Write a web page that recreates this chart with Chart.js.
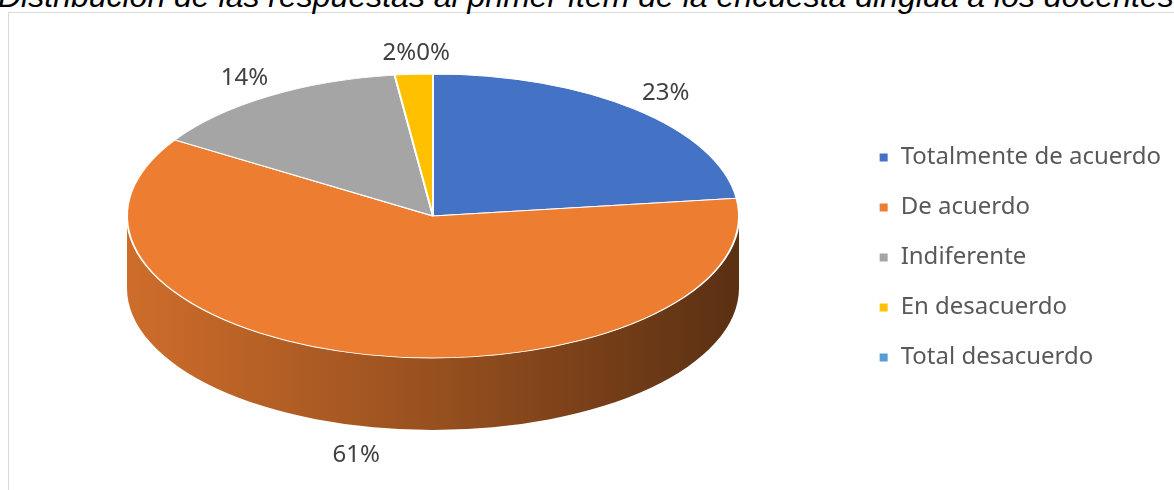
<!DOCTYPE html>
<html>
<head>
<meta charset="utf-8">
<script src="https://cdn.jsdelivr.net/npm/chart.js@4"></script>
<style>
  html, body { margin: 0; padding: 0; background: #fff; }
  #wrap { position: relative; width: 1174px; height: 490px; overflow: hidden; }
  #frame { position: absolute; left: 8px; top: 12px; width: 1300px; height: 600px; border: 1px solid #d9d9d9; box-sizing: border-box; }
  #title { position: absolute; left: -2px; top: -20px; font: italic 32px "Liberation Sans", Arial, sans-serif; line-height: 1; white-space: nowrap; color: #000; }
  #myChart { position: absolute; left: 0; top: 0; }
</style>
</head>
<body>
<div id="wrap">
  <div id="frame"></div>
  <div id="title">Distribución de las respuestas al primer ítem de la encuesta dirigida a los docentes</div>
  <canvas id="myChart" width="1174" height="490"></canvas>
</div>
<script>
const categories = ['Totalmente de acuerdo', 'De acuerdo', 'Indiferente', 'En desacuerdo', 'Total desacuerdo'];
const percentages = [23, 61, 14, 2, 0];
const sliceColors = ['#4472c4', '#ed7d31', '#a5a5a5', '#ffc000', '#5b9bd5'];

// flattened pie: top face is an ellipse, the front rim gets a wall of this depth
const pie = { x: 433, y: 216, rx: 306, ry: 142, depth: 72 };

function shade(hex, f) {
  let n = parseInt(hex.slice(1), 16);
  let r = Math.round(((n >> 16) & 255) * f);
  let g = Math.round(((n >> 8) & 255) * f);
  let b = Math.round((n & 255) * f);
  return `rgb(${r},${g},${b})`;
}

const pie3d = {
  id: 'pie3d',
  beforeDatasetsDraw(chart) {
    const ctx = chart.ctx;
    const arcs = chart.getDatasetMeta(0).data;

    // front wall, only where the rim faces the viewer
    arcs.forEach((arc, i) => {
      let a = Math.max(arc.startAngle, 0);
      let b = Math.min(arc.endAngle, Math.PI);
      if (b <= a) return;
      let grad = ctx.createLinearGradient(pie.x - pie.rx, 0, pie.x + pie.rx, 0);
      grad.addColorStop(0, shade(sliceColors[i], 0.87));
      grad.addColorStop(0.5, shade(sliceColors[i], 0.64));
      grad.addColorStop(1, shade(sliceColors[i], 0.38));
      ctx.save();
      ctx.beginPath();
      ctx.ellipse(pie.x, pie.y, pie.rx, pie.ry, 0, a, b, false);
      ctx.ellipse(pie.x, pie.y + pie.depth, pie.rx, pie.ry, 0, b, a, true);
      ctx.closePath();
      ctx.fillStyle = grad;
      ctx.fill();
      ctx.restore();
    });

    // squash the round pie into the top face
    const cx = arcs[0].x, cy = arcs[0].y;
    ctx.save();
    ctx.translate(pie.x, pie.y);
    ctx.scale(1, pie.ry / pie.rx);
    ctx.translate(-cx, -cy);
  },
  afterDatasetsDraw(chart) {
    const ctx = chart.ctx;
    ctx.restore();

    const arcs = chart.getDatasetMeta(0).data;
    ctx.save();
    ctx.font = '24px "Noto Sans", sans-serif';
    ctx.fillStyle = '#404040';
    ctx.textAlign = 'center';
    ctx.textBaseline = 'middle';

    let labels = arcs.map((arc, i) => {
      let mid = (arc.startAngle + arc.endAngle) / 2;
      let f = 1.15;
      let x = pie.x + pie.rx * f * Math.cos(mid);
      let y = pie.y + pie.ry * f * Math.sin(mid);
      if (Math.sin(mid) > 0) y += pie.depth + 8;
      let text = percentages[i] + '%';
      return { text, x, y, w: ctx.measureText(text).width };
    });

    // nudge labels of thin neighbouring slices apart
    for (let i = 0; i < labels.length; i++) {
      for (let j = i + 1; j < labels.length; j++) {
        let p = labels[i], q = labels[j];
        if (Math.abs(p.y - q.y) > 20) continue;
        let overlap = (p.w + q.w) / 2 - Math.abs(p.x - q.x);
        if (overlap > 0) p.x += (p.x < q.x ? -overlap : overlap);
      }
    }

    labels.forEach(l => ctx.fillText(l.text, l.x, l.y));
    ctx.restore();
  }
};

const ctx = document.getElementById('myChart');

new Chart(ctx, {
  type: 'pie',
  data: {
    labels: categories,
    datasets: [{
      data: percentages,
      backgroundColor: sliceColors,
      borderColor: '#ffffff',
      borderWidth: 2,
      radius: pie.rx,
      clip: false
    }]
  },
  options: {
    responsive: false,
    animation: false,
    events: [],
    layout: { padding: { top: 34, bottom: 9, left: 0, right: 3 } },
    plugins: {
      tooltip: { enabled: false },
      legend: {
        position: 'right',
        align: 'center',
        labels: {
          boxWidth: 10,
          boxHeight: 10,
          padding: 26,
          color: '#595959',
          font: { family: '"Noto Sans", sans-serif', size: 24 }
        }
      }
    }
  },
  plugins: [pie3d]
});
</script>
</body>
</html>
